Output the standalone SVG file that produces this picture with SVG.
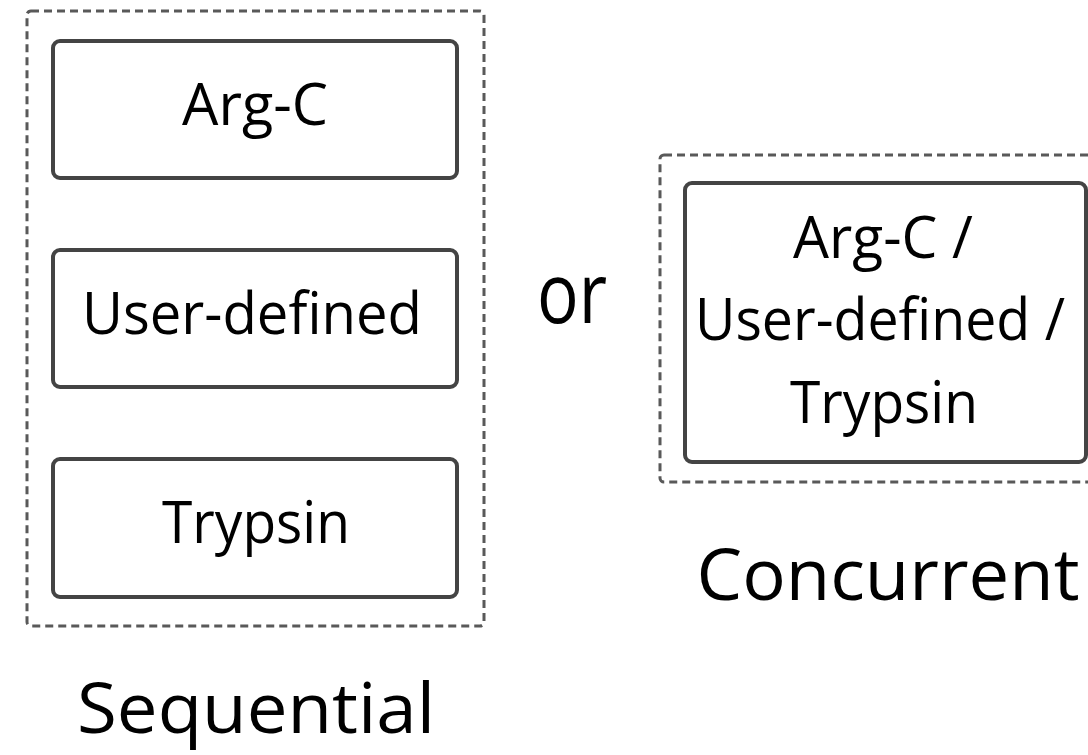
<svg xmlns="http://www.w3.org/2000/svg" width="1088" height="755" viewBox="0 0 1088 755">
<style>
.dash{fill:none;stroke:#595959;stroke-width:3;stroke-dasharray:8 5}
.box{fill:#fff;stroke:#444;stroke-width:4}
text{font-family:"Open Sans","Noto Sans","Liberation Sans",sans-serif;fill:#000;text-anchor:middle}
.t{font-size:58px}
.big{font-size:72px}
</style>
<rect width="1088" height="755" fill="#fff"/>
<g id="sequential-group">
<rect class="dash" x="27" y="11" width="457" height="615" rx="4"/>
<text x="256" y="733" font-size="70" textLength="358" lengthAdjust="spacingAndGlyphs">Sequential</text>
</g>
<g id="node-argc">
<rect class="box" x="53" y="41" width="404" height="137" rx="7"/>
<text class="t" x="255" y="125" textLength="146" lengthAdjust="spacingAndGlyphs">Arg-C</text>
</g>
<g id="node-userdefined">
<rect class="box" x="53" y="250" width="404" height="137" rx="7"/>
<text class="t" x="252" y="334" textLength="340" lengthAdjust="spacingAndGlyphs">User-defined</text>
</g>
<g id="node-trypsin">
<rect class="box" x="53" y="459" width="404" height="138" rx="7"/>
<text class="t" x="256" y="543" textLength="188" lengthAdjust="spacingAndGlyphs">Trypsin</text>
</g>
<g id="or-label">
<text x="572" y="323" font-size="84" textLength="70" lengthAdjust="spacingAndGlyphs">or</text>
</g>
<g id="concurrent-group">
<rect class="dash" x="660" y="155" width="460" height="327" rx="4"/>
<text class="big" x="888" y="600" textLength="383" lengthAdjust="spacingAndGlyphs">Concurrent</text>
</g>
<g id="node-concurrent">
<rect class="box" x="685" y="183" width="401" height="279" rx="7"/>
<text class="t" x="883" y="258" textLength="180" lengthAdjust="spacingAndGlyphs">Arg-C /</text>
<text class="t" x="880" y="340" textLength="370" lengthAdjust="spacingAndGlyphs">User-defined /</text>
<text class="t" x="884" y="423" textLength="188" lengthAdjust="spacingAndGlyphs">Trypsin</text>
</g>
<g id="connectors"></g>
</svg>
